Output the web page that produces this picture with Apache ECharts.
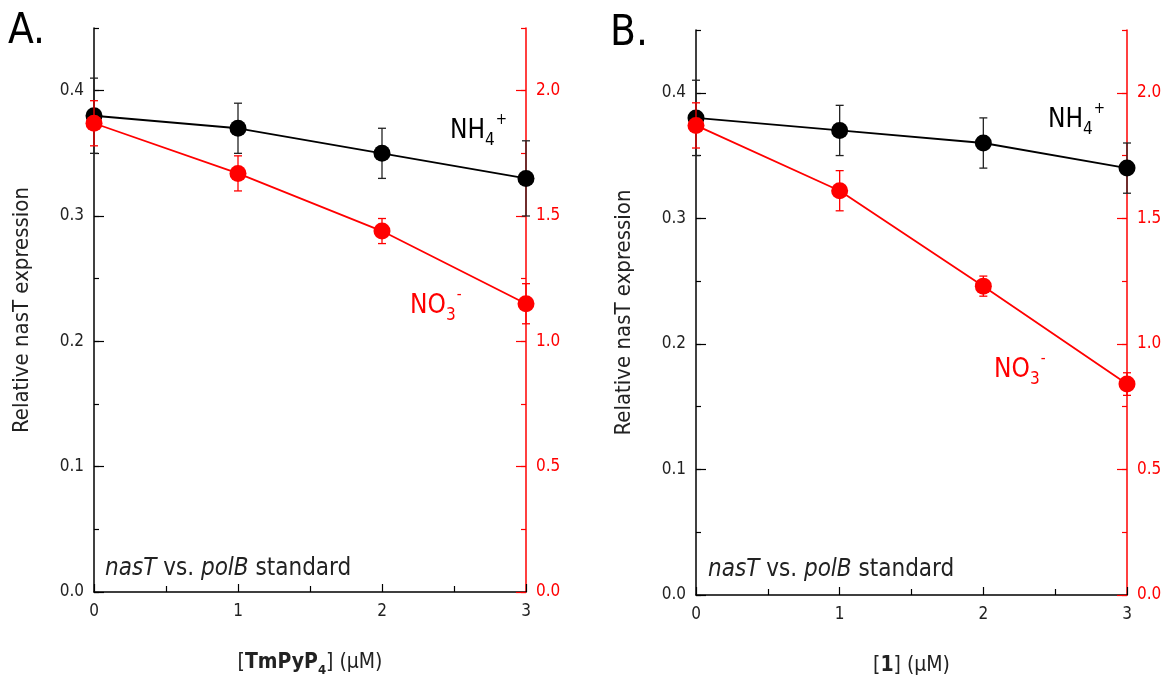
<!DOCTYPE html>
<html>
<head>
<meta charset="utf-8">
<script src="https://cdn.jsdelivr.net/npm/echarts@6/dist/echarts.min.js"></script>
<style>
  html, body { margin: 0; padding: 0; background: #fff; }
  #chart { width: 1164px; height: 677px; }
</style>
</head>
<body>
<div id="chart"></div>
<script>
  // concentrations (uM)
  const concentrations = [0, 1, 2, 3];
  const leftLabels = [0, 0.1, 0.2, 0.3, 0.4];
  const rightLabels = [0, 0.5, 1.0, 1.5, 2.0];

  // A. TmPyP4
  const nh4A = [0.38, 0.37, 0.35, 0.33];
  const nh4AErr = [0.03, 0.02, 0.02, 0.03];
  const no3A = [1.87, 1.67, 1.44, 1.15];
  const no3AErr = [0.09, 0.07, 0.05, 0.08];

  // B. compound 1
  const nh4B = [0.38, 0.37, 0.36, 0.34];
  const nh4BErr = [0.03, 0.02, 0.02, 0.02];
  const no3B = [1.87, 1.61, 1.23, 0.84];
  const no3BErr = [0.09, 0.08, 0.04, 0.045];

  const FF = "'DejaVu Sans Condensed', 'Liberation Sans', sans-serif";
  const RED = '#ff0000';
  const INK = '#222';

  const chart = echarts.init(document.getElementById('chart'));

  // main axis + an overlay that only draws the longer major ticks
  function yAxisPair(grid, side, max, step, labels, color, name) {
    const lineColor = color === RED ? RED : '#000';
    const main = {
      type: 'value', gridIndex: grid, position: side,
      min: 0, max: max, interval: step,
      axisLine: { show: true, onZero: false, lineStyle: { color: lineColor, width: 1.5 } },
      axisTick: { show: true, inside: true, length: 5, lineStyle: { color: lineColor, width: 1.2 } },
      axisLabel: {
        customValues: labels, color: color, fontFamily: FF, fontSize: 17, margin: 10,
        formatter: v => v.toFixed(1)
      },
      splitLine: { show: false }
    };
    if (name) {
      main.name = name;
      main.nameLocation = 'middle';
      main.nameGap = 61;
      main.nameRotate = 90;
      main.nameTextStyle = { color: INK, fontFamily: FF, fontSize: 22 };
    }
    const overlay = {
      type: 'value', gridIndex: grid, position: side,
      min: 0, max: max, interval: step,
      axisLine: { show: false },
      axisTick: { show: true, inside: true, length: 10, customValues: labels,
        lineStyle: { color: lineColor, width: 1.2 } },
      axisLabel: { show: false },
      splitLine: { show: false }
    };
    return [main, overlay];
  }

  function xAxis(grid, richName) {
    return {
      type: 'value', gridIndex: grid, min: 0, max: 3, interval: 1,
      axisLine: { onZero: false, lineStyle: { color: '#000', width: 1.5 } },
      axisTick: { inside: true, length: 8, lineStyle: { color: '#000', width: 1.2 } },
      minorTick: { show: true, splitNumber: 2, length: 6, lineStyle: { color: '#000', width: 1.2 } },
      axisLabel: { color: INK, fontFamily: FF, fontSize: 17, margin: 11 },
      splitLine: { show: false },
      name: richName, nameLocation: 'middle', nameGap: 57,
      nameTextStyle: {
        color: INK, fontFamily: FF, fontSize: 21,
        rich: {
          n: { fontFamily: FF, fontSize: 21, color: INK, lineHeight: 28 },
          b: { fontFamily: FF, fontSize: 21, color: INK, fontWeight: 'bold', lineHeight: 28 },
          s: { fontFamily: FF, fontSize: 13, color: INK, fontWeight: 'bold', lineHeight: 28, verticalAlign: 'bottom' }
        }
      }
    };
  }

  function lineSeries(xi, yi, vals, color, z) {
    return {
      type: 'line', xAxisIndex: xi, yAxisIndex: yi, z: z,
      data: concentrations.map((c, i) => [c, vals[i]]),
      symbol: 'circle', symbolSize: 17,
      itemStyle: { color: color },
      lineStyle: { color: color, width: 1.8 },
      silent: true, animation: false
    };
  }

  function errSeries(xi, yi, vals, errs, color, z) {
    return {
      type: 'custom', xAxisIndex: xi, yAxisIndex: yi, z: z, silent: true,
      encode: { x: 0, y: 1 },
      data: concentrations.map((c, i) => [c, vals[i], errs[i]]),
      renderItem: function (params, api) {
        const x = api.value(0), y = api.value(1), e = api.value(2);
        const hi = api.coord([x, y + e]);
        const lo = api.coord([x, y - e]);
        const w = 4;
        const st = { stroke: color, lineWidth: 1.3 };
        return {
          type: 'group',
          children: [
            { type: 'line', shape: { x1: hi[0], y1: hi[1], x2: lo[0], y2: lo[1] }, style: st },
            { type: 'line', shape: { x1: hi[0] - w, y1: hi[1], x2: hi[0] + w, y2: hi[1] }, style: st },
            { type: 'line', shape: { x1: lo[0] - w, y1: lo[1], x2: lo[0] + w, y2: lo[1] }, style: st }
          ]
        };
      }
    };
  }

  function txt(x, y, s, size, color) {
    return {
      type: 'text', x: x, y: y, silent: true,
      style: { text: s, fill: color, font: size + 'px ' + FF, verticalAlign: 'middle', align: 'left' }
    };
  }

  // ion label with subscript and superscript, y = centre of the capitals
  function ion(x, y, main, sub, sup, color) {
    return {
      type: 'text', x: x, y: y, silent: true,
      style: {
        text: '{m|' + main + '}{s|' + sub + '}{p|' + sup + '}',
        fill: color, verticalAlign: 'middle', align: 'left',
        rich: {
          m: { fontFamily: FF, fontSize: 26, fill: color, lineHeight: 36 },
          s: { fontFamily: FF, fontSize: 17, fill: color, lineHeight: 17, verticalAlign: 'bottom' },
          p: { fontFamily: FF, fontSize: 15, fill: color, lineHeight: 27, verticalAlign: 'top', padding: [0, 0, 0, 1] }
        }
      }
    };
  }

  function standardText(x, y) {
    return {
      type: 'text', x: x, y: y, silent: true,
      style: {
        text: '{i|nasT} vs. {i|polB} standard',
        font: '24px ' + FF, fill: INK, verticalAlign: 'middle',
        rich: { i: { fontStyle: 'italic', fontFamily: FF, fontSize: 24, fill: INK } }
      }
    };
  }

  const option = {
    backgroundColor: '#fff',
    animation: false,
    grid: [
      { left: 94, top: 28, width: 432, height: 564, outerBoundsMode: 'none', containLabel: false },
      { left: 696, top: 30, width: 431, height: 565, outerBoundsMode: 'none', containLabel: false }
    ],
    xAxis: [
      xAxis(0, '{n|[}{b|TmPyP}{s|4}{n|] (μM)}'),
      xAxis(1, '{n|[}{b|1}{n|] (μM)}')
    ],
    yAxis: [
      ...yAxisPair(0, 'left', 0.45, 0.05, leftLabels, INK, 'Relative nasT expression'),
      ...yAxisPair(0, 'right', 2.25, 0.25, rightLabels, RED),
      ...yAxisPair(1, 'left', 0.45, 0.05, leftLabels, INK, 'Relative nasT expression'),
      ...yAxisPair(1, 'right', 2.25, 0.25, rightLabels, RED)
    ],
    series: [
      errSeries(0, 0, nh4A, nh4AErr, '#222', 3),
      lineSeries(0, 0, nh4A, '#000', 4),
      errSeries(0, 2, no3A, no3AErr, RED, 5),
      lineSeries(0, 2, no3A, RED, 6),
      errSeries(1, 4, nh4B, nh4BErr, '#222', 3),
      lineSeries(1, 4, nh4B, '#000', 4),
      errSeries(1, 6, no3B, no3BErr, RED, 5),
      lineSeries(1, 6, no3B, RED, 6)
    ],
    graphic: [
      txt(8, 32, 'A.', 42, '#000'),
      txt(610, 34, 'B.', 42, '#000'),
      standardText(105, 569),
      standardText(708, 570),
      ion(450, 131, 'NH', '4', '+', '#000'),
      ion(410, 306, 'NO', '3', '-', RED),
      ion(1048, 120, 'NH', '4', '+', '#000'),
      ion(994, 370, 'NO', '3', '-', RED)
    ]
  };

  chart.setOption(option);
</script>
</body>
</html>
